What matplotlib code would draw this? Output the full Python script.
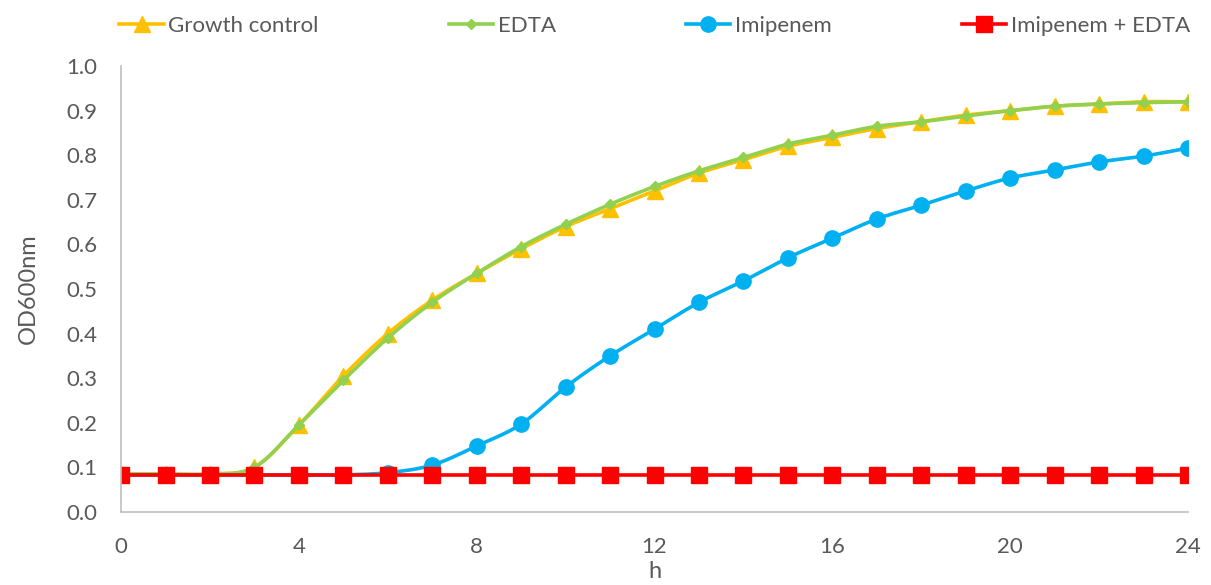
import numpy as np
import matplotlib
matplotlib.use("Agg")
import matplotlib.pyplot as plt

plt.rcParams['font.family'] = ['Lato', 'DejaVu Sans']

# Données
hours = list(range(25))
growth_control = [0.085, 0.085, 0.085, 0.10, 0.195, 0.305, 0.40, 0.475, 0.535, 0.59, 0.64,
                  0.68, 0.72, 0.76, 0.79, 0.82, 0.84, 0.86, 0.875, 0.89, 0.90, 0.91,
                  0.915, 0.92, 0.92]
edta = [0.085, 0.085, 0.085, 0.10, 0.195, 0.295, 0.39, 0.47, 0.535, 0.595, 0.645,
        0.69, 0.73, 0.765, 0.795, 0.825, 0.845, 0.865, 0.875, 0.888, 0.90, 0.91,
        0.915, 0.918, 0.92]
imipenem = [0.083, 0.083, 0.083, 0.083, 0.083, 0.083, 0.088, 0.105, 0.148, 0.197, 0.28,
            0.35, 0.41, 0.47, 0.518, 0.57, 0.614, 0.657, 0.688, 0.72, 0.749, 0.767,
            0.785, 0.798, 0.816]
imipenem_edta = [0.082] * 25

labels = ["Growth control", "EDTA", "Imipenem", "Imipenem + EDTA"]
x_ticks = [0, 4, 8, 12, 16, 20, 24]
y_ticks = [0.0, 0.1, 0.2, 0.3, 0.4, 0.5, 0.6, 0.7, 0.8, 0.9, 1.0]


# Lissage façon Excel (Catmull-Rom), uniquement pour le tracé de la courbe
def smooth(x, y, n=20):
    x = np.asarray(x, float)
    y = np.asarray(y, float)
    px = np.concatenate([[x[0]], x, [x[-1]]])
    py = np.concatenate([[y[0]], y, [y[-1]]])
    xs, ys = [], []
    t = np.linspace(0, 1, n, endpoint=False)
    for i in range(1, len(px) - 2):
        p0, p1, p2, p3 = [np.array([px[j], py[j]]) for j in range(i - 1, i + 3)]
        b1 = p1 + (p2 - p0) / 6
        b2 = p2 - (p3 - p1) / 6
        for tt in t:
            pt = ((1 - tt) ** 3 * p1 + 3 * (1 - tt) ** 2 * tt * b1
                  + 3 * (1 - tt) * tt ** 2 * b2 + tt ** 3 * p2)
            xs.append(pt[0])
            ys.append(pt[1])
    xs.append(x[-1])
    ys.append(y[-1])
    return xs, ys


fig = plt.figure(figsize=(12.11, 5.85), dpi=100)
ax = fig.add_axes([0.1, 0.125, 0.881, 0.762])

series = [
    (growth_control, "#FFC000", "^", 11),
    (edta, "#92D050", "D", 5),
    (imipenem, "#00B0F0", "o", 11),
    (imipenem_edta, "#FF0000", "s", 11),
]

handles = []
for (vals, color, marker, ms), label in zip(series, labels):
    sx, sy = smooth(hours, vals)
    ax.plot(sx, sy, color=color, lw=2.6, solid_capstyle="round")
    ax.plot(hours, vals, linestyle="none", marker=marker, color=color, markersize=ms)
    h, = ax.plot([], [], color=color, lw=2.6, marker=marker, markersize=ms, label=label)
    handles.append(h)

ax.set_xlim(0, 24)
ax.set_ylim(0, 1.0)
ax.set_xticks(x_ticks)
ax.set_yticks(y_ticks)
ax.set_yticklabels([f"{v:.1f}" for v in y_ticks])
ax.tick_params(length=0, labelsize=16, labelcolor="#595959")
ax.tick_params(axis="y", pad=17)
ax.tick_params(axis="x", pad=18)

for side in ["top", "right"]:
    ax.spines[side].set_visible(False)
for side in ["left", "bottom"]:
    ax.spines[side].set_color("#BFBFBF")
    ax.spines[side].set_linewidth(1.2)

ax.set_xlabel("h", fontsize=17, color="#595959", labelpad=3)
ax.set_ylabel("OD600nm", fontsize=17, color="#595959", labelpad=20)

ax.legend(handles=handles, loc="center", bbox_to_anchor=(-0.01, 1.05, 1.02, 0.08),
          ncol=4, mode="expand", frameon=False, fontsize=16, handlelength=2.0,
          handletextpad=0.2, labelcolor="#595959", borderaxespad=0)

fig.savefig("out.png", dpi=100)
